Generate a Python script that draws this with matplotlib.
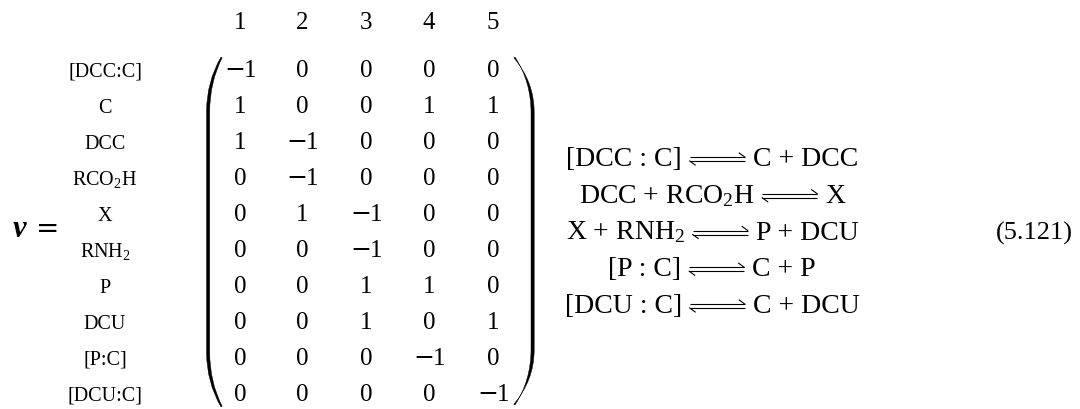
import matplotlib
matplotlib.use("Agg")
import matplotlib.pyplot as plt
from matplotlib.path import Path
from matplotlib.patches import PathPatch

plt.rcParams['font.family'] = ['Liberation Serif', 'DejaVu Serif']
plt.rcParams['mathtext.fontset'] = 'custom'
plt.rcParams['mathtext.rm'] = 'Liberation Serif'
plt.rcParams['mathtext.it'] = 'Liberation Serif:italic'
plt.rcParams['mathtext.bf'] = 'Liberation Serif:bold'
plt.rcParams['mathtext.default'] = 'regular'

# stoichiometric matrix: rows = species, columns = reactions
species = ['[DCC:C]', 'C', 'DCC', 'RCO$_2$H', 'X', 'RNH$_2$', 'P', 'DCU', '[P:C]', '[DCU:C]']
reaction_ids = ['1', '2', '3', '4', '5']
nu = [
    [-1, 0, 0, 0, 0],
    [1, 0, 0, 1, 1],
    [1, -1, 0, 0, 0],
    [0, -1, 0, 0, 0],
    [0, 1, -1, 0, 0],
    [0, 0, -1, 0, 0],
    [0, 0, 1, 1, 0],
    [0, 0, 1, 0, 1],
    [0, 0, 0, -1, 0],
    [0, 0, 0, 0, -1],
]
lhs = ['[DCC : C]', 'DCC + RCO$_2$H', 'X + RNH$_2$', '[P : C]', '[DCU : C]']
rhs = ['C + DCC', 'X', 'P + DCU', 'C + P', 'C + DCU']
eq_number = '(5.121)'

W, H = 1080, 409
fig = plt.figure(figsize=(W / 100, H / 100), dpi=100)
ax = fig.add_axes([0, 0, 1, 1])
ax.set_xlim(0, W)
ax.set_ylim(H, 0)
ax.axis('off')
renderer = fig.canvas.get_renderer()

fs = 18
col_x = [240, 302, 366, 429, 493]
row0 = 77      # baseline of first matrix row
dy = 36

# column headers
for x, lab in zip(col_x, reaction_ids):
    ax.text(x, 29, lab, ha='center', va='baseline', fontsize=fs)

# species labels and matrix entries
for i, (name, row) in enumerate(zip(species, nu)):
    yb = row0 + i * dy
    ax.text(105, yb, name, ha='center', va='baseline', fontsize=14.5)
    for x, v in zip(col_x, row):
        if v >= 0:
            ax.text(x, yb, str(v), ha='center', va='baseline', fontsize=fs)
        else:
            # wider (TeX-like) minus sign in front of the digit
            tm = ax.text(0, yb, '\u2212', ha='left', va='baseline',
                         fontsize=fs, family='DejaVu Serif')
            td = ax.text(0, yb, str(-v), ha='left', va='baseline', fontsize=fs)
            wm = tm.get_window_extent(renderer).width
            wd = td.get_window_extent(renderer).width
            xs = x - (wm + wd - 1.5) / 2
            tm.set_x(xs)
            td.set_x(xs + wm - 1.5)

# nu =
ax.text(13, 237, '\u03bd', ha='left', va='baseline', fontsize=22,
        fontweight='bold', style='italic')
ax.text(48, 237, '=', ha='center', va='baseline', fontsize=20,
        family='DejaVu Serif')


def paren(tip, outer, thick, top, bot, curve=55):
    # filled big parenthesis; tip = x of the ends, outer = x of straight part
    s = 1 if tip > outer else -1
    inner = outer + s * thick
    verts = [
        (tip, top), (outer, top + curve * 0.45), (outer, top + curve),
        (outer, bot - curve),
        (outer, bot - curve * 0.45), (tip, bot),
        (tip + s * 1.2, bot - 0.8),
        (inner, bot - curve * 0.45), (inner, bot - curve),
        (inner, top + curve),
        (inner, top + curve * 0.45), (tip + s * 1.2, top + 0.8),
        (tip, top),
    ]
    codes = [Path.MOVETO, Path.CURVE3, Path.CURVE3, Path.LINETO,
             Path.CURVE3, Path.CURVE3, Path.LINETO,
             Path.CURVE3, Path.CURVE3, Path.LINETO,
             Path.CURVE3, Path.CURVE3, Path.CLOSEPOLY]
    ax.add_patch(PathPatch(Path(verts, codes), facecolor='black',
                           edgecolor='black', lw=0.3))


paren(221, 206.5, 3.2, 57, 407)
paren(515, 531, -3.2, 57, 405)

# reactions, each line centred at cx
rfs = 20
cx = 712
base0 = 166
rdy = 36.75
gap = 8
alen = 55
for k, (l, r) in enumerate(zip(lhs, rhs)):
    yb = base0 + k * rdy
    tl = ax.text(0, yb, l, ha='right', va='baseline', fontsize=rfs)
    tr = ax.text(0, yb, r, ha='left', va='baseline', fontsize=rfs)
    wl = tl.get_window_extent(renderer).width
    wr = tr.get_window_extent(renderer).width
    x0 = cx - (wl + wr + 2 * gap + alen) / 2 + wl + gap
    x1 = x0 + alen
    tl.set_x(x0 - gap)
    tr.set_x(x1 + gap)
    yt, ybt = yb - 9, yb - 5
    ax.plot([x0, x1], [yt, yt], color='black', lw=0.8, solid_capstyle='butt')
    ax.plot([x1 - 5.5, x1], [yt - 4, yt], color='black', lw=0.8)
    ax.plot([x0, x1], [ybt, ybt], color='black', lw=0.8, solid_capstyle='butt')
    ax.plot([x0, x0 + 5.5], [ybt, ybt + 4], color='black', lw=0.8)

ax.text(1073, 240, eq_number, ha='right', va='baseline', fontsize=19)

fig.savefig('out.png', dpi=100)
